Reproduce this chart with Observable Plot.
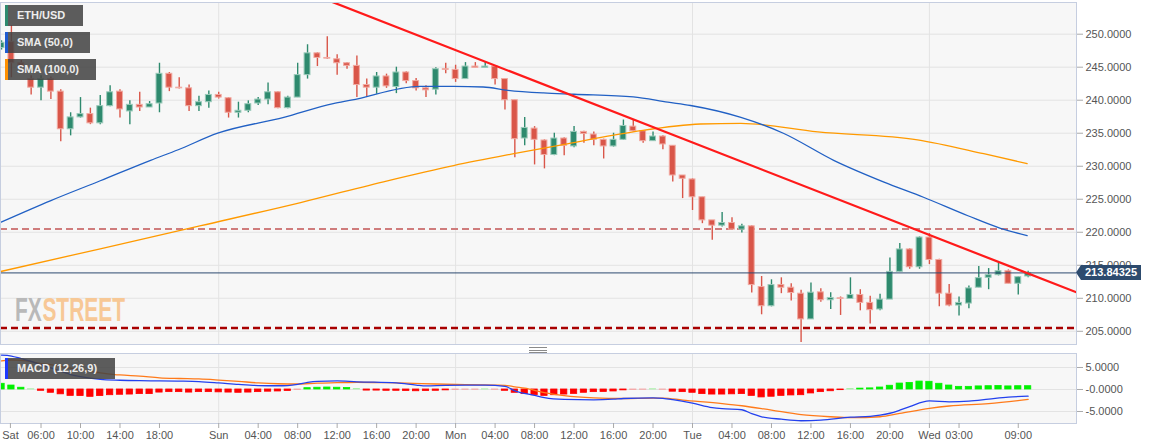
<!DOCTYPE html>
<html><head><meta charset="utf-8">
<script src="https://cdn.jsdelivr.net/npm/d3@7"></script>
<script src="https://cdn.jsdelivr.net/npm/@observablehq/plot@0.6"></script>
<style>
body{margin:0;background:#fff;font-family:"Liberation Sans",Arial,sans-serif;}
#wrap{position:relative;width:1153px;height:448px;overflow:hidden;background:#fff;}
#wrap svg{position:absolute;left:0;}
.leg{position:absolute;left:5px;height:21px;background:rgba(66,66,66,0.86);color:#ededed;font-size:11px;font-weight:bold;line-height:21px;padding-left:12px;box-sizing:border-box;white-space:nowrap;}
.leg i{position:absolute;left:0;top:0;width:2.5px;height:100%;}
.split{position:absolute;left:529px;width:18px;height:1px;background:#8a8a8a;}
</style></head><body><div id="wrap"></div>
<script>
// ---------- data ----------
const firstHour = 2;            // Sat 02:00 (hours since Sat 00:00)
const open  = [247.9,248.8,245.6,243.2,241.9,243.2,241.3,235.6,237.4,237.9,236.5,239.1,241.3,238.3,239.3,238.9,239.5,244.0,241.9,241.8,239.1,239.7,240.8,240.3,238.1,238.4,239.5,240.1,241.2,238.8,240.4,243.8,247.1,246.4,246.2,245.6,245.2,242.3,241.9,243.6,242.0,244.2,242.9,241.8,241.6,244.7,244.6,243.2,245.1,244.9,245.1,243.2,240.0,234.2,235.7,233.9,231.7,234.2,233.0,235.2,234.8,234.0,233.0,234.0,236.0,235.3,233.8,234.5,233.1,228.6,228.0,225.3,221.8,221.0,221.4,220.4,220.9,211.7,208.8,212.0,211.6,210.7,206.8,210.9,209.7,210.0,209.9,210.5,209.3,208.3,209.8,214.0,217.4,214.7,219.2,215.8,210.7,208.9,209.2,211.6,213.1,213.5,214.1,212.2,213.3];
const close = [248.7,245.6,245.1,241.9,243.2,241.3,235.6,237.4,237.9,236.5,239.1,241.2,238.6,239.3,238.9,239.4,244.0,241.9,241.8,239.1,239.7,240.8,240.4,238.1,238.4,239.4,240.1,241.2,238.8,240.4,243.8,247.1,246.4,246.3,245.6,245.2,242.3,241.9,243.6,242.1,244.2,242.9,241.8,241.5,244.7,244.6,243.2,245.1,244.9,245.1,243.2,240.0,234.1,235.8,234.0,231.7,234.2,233.1,235.2,234.9,234.0,233.0,234.0,236.1,235.3,233.8,234.5,233.3,228.6,228.1,225.3,221.8,221.0,221.4,220.4,220.9,212.0,208.8,212.0,211.6,210.8,206.8,210.85,209.7,210.05,209.9,210.5,209.3,208.2,209.8,214.0,217.4,214.7,219.2,215.8,210.7,208.9,209.3,211.5,213.05,213.5,214.1,212.2,213.2,213.84];
const high  = [249.0,251.3,246.0,243.7,243.7,243.5,241.6,238.1,240.4,238.8,240.7,242.2,241.6,239.9,241.2,239.8,245.6,244.2,243.4,242.3,240.6,241.4,241.2,240.4,239.7,239.9,240.4,242.6,241.3,240.6,245.6,248.4,247.2,249.6,246.9,245.7,246.7,243.2,244.2,243.95,245.0,244.3,243.3,242.2,244.9,245.6,245.3,245.7,245.7,245.7,245.2,243.2,240.0,237.4,236.0,234.0,235.0,234.3,236.0,235.3,235.2,234.1,235.0,237.0,237.0,235.3,235.2,234.6,233.1,228.6,228.1,225.3,221.8,223.0,222.2,221.2,221.0,213.3,212.8,213.1,212.2,211.2,212.3,211.45,210.85,210.2,213.1,211.3,210.3,210.6,216.1,218.3,217.5,219.3,219.8,215.9,212.1,210.2,211.85,214.8,214.5,215.3,214.3,213.3,214.1];
const low   = [247.6,243.4,244.9,240.8,239.9,240.1,233.7,234.6,237.3,236.3,236.3,239.0,237.3,236.3,238.3,238.9,238.1,241.3,241.7,238.3,238.3,238.8,240.2,237.3,237.3,238.1,239.2,239.3,238.7,238.7,240.4,243.2,245.1,246.2,243.8,244.7,240.4,240.4,240.9,241.8,241.0,242.5,241.4,240.4,240.8,244.0,242.7,243.2,244.9,244.9,242.3,238.5,231.3,233.1,230.2,229.6,231.6,231.6,232.8,233.5,233.1,231.1,232.9,233.9,235.2,233.5,233.8,232.5,227.6,225.1,223.3,221.3,218.8,220.8,220.3,219.9,210.8,207.5,208.7,210.7,209.6,203.3,206.8,209.4,208.3,207.4,209.9,208.1,206.1,208.1,209.8,213.9,214.4,214.4,215.1,208.7,208.7,207.3,208.4,211.6,211.3,213.4,212.2,210.5,213.1];

const sma50Hours   = [1.9,7.0,12.0,17.1,19.9,23.9,30.6,35.6,37.4,44.4,47.8,50.8,53.3,56.9,60.0,66.0,69.5,71.8,76.9,81.2,86.3,91.4,95.4,99.9,103.2,105.9];
const sma50Values  = [221.5,224.8,227.8,230.9,232.5,235.0,237.4,239.5,240.0,242.1,242.1,242.0,241.5,241.1,240.9,240.5,239.7,239.2,237.4,235.0,230.9,227.6,225.3,222.5,220.6,219.5];
const sma100Hours  = [1.9,12.0,22.2,32.3,41.1,47.8,53.9,59.3,66.0,72.8,76.9,84.7,94.8,101.5,105.9];
const sma100Values = [214.05,217.5,221.0,224.5,227.8,230.1,231.9,233.4,235.2,236.4,236.5,235.2,234.0,231.9,230.4];

const trendHours  = [35.3,110.9];
const trendValues = [255.0,210.9];
const resistance = 220.5;
const support    = 205.5;
const lastPrice  = 213.84325;

const histValues = [1.3,0.9,0.4,0.05,-0.3,-0.75,-1.1,-1.45,-1.5,-1.67,-1.5,-1.3,-1.2,-1.15,-1.05,-1.05,-0.7,-0.6,-0.6,-0.7,-0.6,-0.6,-0.65,-0.7,-0.75,-0.7,-0.6,-0.5,-0.45,-0.35,-0.1,0.3,0.4,0.45,0.4,0.35,0.1,-0.25,-0.25,-0.3,-0.3,-0.35,-0.4,-0.35,-0.3,-0.2,-0.1,-0.05,-0.05,0.03,-0.05,-0.3,-0.75,-1.05,-1.3,-1.45,-1.3,-1.15,-1.0,-0.75,-0.6,-0.55,-0.45,-0.2,-0.1,-0.05,0.05,-0.05,-0.5,-0.6,-0.75,-1.05,-1.15,-1.15,-1.1,-1.05,-1.45,-1.8,-1.65,-1.45,-1.35,-1.3,-0.9,-0.6,-0.4,-0.15,0.1,0.2,0.25,0.45,0.85,1.35,1.5,1.8,1.75,1.3,0.9,0.6,0.6,0.7,0.75,0.8,0.7,0.75,0.75];
const macdHours    = [2,3,4,5,6,7,8,9,10,12,14,16,18,20,22,24,26,28,30,31,32,33,34,36,38,42,44,45,47,49,51,53,54,56,57,59,62,64,65,68,69,70,72,74,75,77,78,79,81,83,85,88,90,91,92,93,94,96,98,100,102,104,106];
const macdValues   = [7.8,7.6,7.0,6.4,5.6,4.9,4.1,3.4,2.9,2.3,2.1,2.0,1.95,1.9,1.8,1.5,1.15,0.9,0.85,0.9,1.15,1.6,1.85,1.95,1.75,1.5,1.0,0.8,0.95,0.98,0.98,0.7,-0.3,-1.35,-1.85,-2.25,-2.35,-2.2,-2.05,-1.9,-2.0,-2.3,-3.1,-4.1,-4.35,-4.6,-5.5,-6.2,-6.75,-7.1,-6.97,-6.3,-6.1,-5.85,-5.4,-4.7,-3.9,-2.6,-2.8,-2.65,-2.2,-1.75,-1.52];
const signalHours  = [2,3,4,5,6,7,8,9,10,12,14,16,18,20,22,24,26,28,30,32,34,36,38,41,43,46,49,52,53,54,55,57,59,62,65,68,69,71,75,77,80,83,86,88,91,93,96,98,102,106];
const signalValues = [6.5,6.7,6.6,6.35,5.9,5.65,5.2,4.85,4.4,3.8,3.3,3.05,2.65,2.5,2.4,2.15,1.85,1.5,1.3,1.25,1.45,1.55,1.65,1.55,1.45,1.25,1.1,1.0,0.95,0.6,0.3,-0.7,-1.4,-1.9,-2.05,-1.95,-1.95,-2.4,-3.2,-3.7,-4.7,-5.7,-6.2,-6.4,-6.2,-5.45,-4.3,-3.75,-3.2,-2.27];

const priceTicks = [205,210,215,220,225,230,235,240,245,250];
const macdTicks = [5,0,-5];
const macdTickLabels = ["5.0000","-0.0000","-5.0000"];
const dayHours = [24,48,72,96];
const tickHours  = [2.9,6,10,14,18,24,28,32,36,40,44,48,52,56,60,64,68,72,76,80,84,88,92,96,99,105];
const tickLabels = ["Sat","06:00","10:00","14:00","18:00","Sun","04:00","08:00","12:00","16:00","20:00","Mon","04:00","08:00","12:00","16:00","20:00","Tue","04:00","08:00","12:00","16:00","20:00","Wed","03:00","09:00"];

// ---------- build tables ----------
const candles = open.map((o,i)=>({h:firstHour+i,o,c:close[i],hi:high[i],lo:low[i]}));
const hist = histValues.map((v,i)=>({h:firstHour+i,v}));
const sma50 = sma50Hours.map((h,i)=>({h,v:sma50Values[i]}));
const sma100 = sma100Hours.map((h,i)=>({h,v:sma100Values[i]}));
const trend = trendHours.map((h,i)=>({h,v:trendValues[i]}));
const macd = macdHours.map((h,i)=>({h,v:macdValues[i]}));
const signal = signalHours.map((h,i)=>({h,v:signalValues[i]}));
const macdLabelMap = new Map(macdTicks.map((t,i)=>[t,macdTickLabels[i]]));
const xLabelMap = new Map(tickHours.map((t,i)=>[t,tickLabels[i]]));

const W = 1153, xDomain = [1.895,110.9];
const GREEN="#2e8a6e", RED="#d95649", GREEN_L="#9ccbbb", RED_L="#f1aaa2";
const up = d => d.c >= d.o;
const grid = "#e3e3e3", frameC = "#c6cee0";
const style = {background:"transparent",fontFamily:"'Liberation Sans',Arial,sans-serif",fontSize:"11px",overflow:"visible"};
const histColor = d => Math.abs(d.v)<=0.1 ? (d.v>0?"#a8f0a8":"#f5a3a3") : (d.v>0?"#00f000":"#ff0000");

const main = Plot.plot({
  width: W, height: 345, marginLeft: 0, marginRight: 77, marginTop: 2, marginBottom: 1,
  x: {domain: xDomain, axis: null},
  y: {domain: [203.0,254.8], axis: null},
  style,
  marks: [
    Plot.frame({fill:"#f7f7f7", stroke:null}),
    Plot.gridY(priceTicks, {stroke:grid, strokeOpacity:1}),
    Plot.gridX(dayHours, {stroke:grid, strokeOpacity:1}),
    Plot.ruleY([resistance], {stroke:"#cf7c7c", strokeWidth:2, strokeDasharray:"7,4"}),
    Plot.ruleY([support], {stroke:"#a80000", strokeWidth:2.5, strokeDasharray:"7,4"}),
    Plot.ruleX(candles, {x:"h", y1:"lo", y2:"hi", stroke:d=>up(d)?GREEN:RED, strokeWidth:1.4}),
    Plot.rect(candles, {x1:d=>d.h-0.3, x2:d=>d.h+0.3, y1:d=>Math.min(d.o,d.c), y2:d=>Math.max(d.o,d.c),
      fill:d=>up(d)?GREEN:RED, stroke:d=>up(d)?GREEN_L:RED_L, strokeWidth:1}),
    Plot.line(sma100, {x:"h", y:"v", stroke:"#ff9a00", strokeWidth:1.3, curve:"monotone-x", clip:true}),
    Plot.line(sma50, {x:"h", y:"v", stroke:"#2160c4", strokeWidth:1.3, curve:"monotone-x", clip:true}),
    Plot.ruleY([lastPrice], {stroke:"#2c4a70", strokeWidth:1}),
    Plot.line(trend, {x:"h", y:"v", stroke:"#ff1a1a", strokeWidth:2.2, clip:true}),
    Plot.frame({stroke:frameC}),
    Plot.axisY(priceTicks, {anchor:"right", label:null, tickFormat:d=>d.toFixed(4), tickSize:6, tickPadding:3, fill:"#555", stroke:"#aaa"})
  ]
});
main.style.top = "0px";

// current price tag
const ys = main.scale("y").apply(lastPrice);
const g = d3.select(main).append("g");
g.append("path").attr("d",`M1076,${ys} L1081,${ys-7.5} L1141,${ys-7.5} L1141,${ys+7.5} L1081,${ys+7.5} Z`).attr("fill","#2d4b6e");
g.append("text").attr("x",1111).attr("y",ys).attr("dy","0.36em").attr("text-anchor","middle")
  .attr("fill","#fff").attr("font-weight","bold").attr("font-size",11).text(lastPrice.toFixed(5));

const macdPlot = Plot.plot({
  width: W, height: 103, marginLeft: 0, marginRight: 77, marginTop: 8, marginBottom: 25,
  x: {domain: xDomain, label: null},
  y: {domain: [-7.73,8.18], axis: null, label: null},
  style,
  marks: [
    Plot.frame({fill:"#f7f7f7", stroke:null}),
    Plot.gridY(macdTicks, {stroke:grid, strokeOpacity:1}),
    Plot.gridX(dayHours, {stroke:grid, strokeOpacity:1}),
    Plot.rect(hist, {x1:d=>d.h-0.32, x2:d=>d.h+0.32, y1:0, y2:"v", fill:histColor, stroke:histColor, strokeWidth:0.8}),
    Plot.line(signal, {x:"h", y:"v", stroke:"#ff7a1a", strokeWidth:1.3, curve:"monotone-x"}),
    Plot.line(macd, {x:"h", y:"v", stroke:"#2341ee", strokeWidth:1.3, curve:"monotone-x"}),
    Plot.frame({stroke:frameC}),
    Plot.axisY(macdTicks, {anchor:"right", label:null, tickFormat:d=>macdLabelMap.get(d), tickSize:6, tickPadding:3, fill:"#555", stroke:"#aaa"}),
    Plot.axisX(tickHours, {anchor:"bottom", label:null, tickFormat:d=>xLabelMap.get(d), tickSize:5, tickPadding:3, fill:"#555", stroke:"#aaa"})
  ]
});
macdPlot.style.top = "345px";

const wrap = document.getElementById("wrap");
wrap.appendChild(main);
wrap.appendChild(macdPlot);

// watermark: measured so the two words sit side by side, then squeezed to width
const wm = d3.select(wrap).append("svg").attr("width",170).attr("height",40)
  .style("top","290px").style("left","15px");
const wg = wm.append("g");
const wfx = wg.append("text").attr("x",0).attr("y",31).attr("font-family","'Liberation Sans',Arial")
  .attr("font-weight","bold").attr("font-size",33).attr("fill","#b9b9b9").text("FX");
const fxW = wfx.node().getComputedTextLength();
const wst = wg.append("text").attr("x",fxW+1).attr("y",31).attr("font-family","'Liberation Sans',Arial")
  .attr("font-weight","bold").attr("font-size",33).attr("fill","#f7c896").text("STREET");
const totalW = fxW + 1 + wst.node().getComputedTextLength();
wg.attr("transform",`scale(${110/totalW},1)`);

// legends
const legends = [["ETH/USD",5,78,GREEN],["SMA (50,0)",32,85,"#1e5bd0"],["SMA (100,0)",59,91,"#ff9000"],["MACD (12,26,9)",358,110,"#1d39ff"]];
for (const [t,top,w,c] of legends) {
  const d = document.createElement("div");
  d.className = "leg"; d.style.top = top+"px"; d.style.width = w+"px";
  d.innerHTML = `<i style="background:${c}"></i>${t}`;
  wrap.appendChild(d);
}
for (const t of [347,349.5,352]) {
  const s = document.createElement("div"); s.className="split"; s.style.top=t+"px"; wrap.appendChild(s);
}
</script></body></html>
